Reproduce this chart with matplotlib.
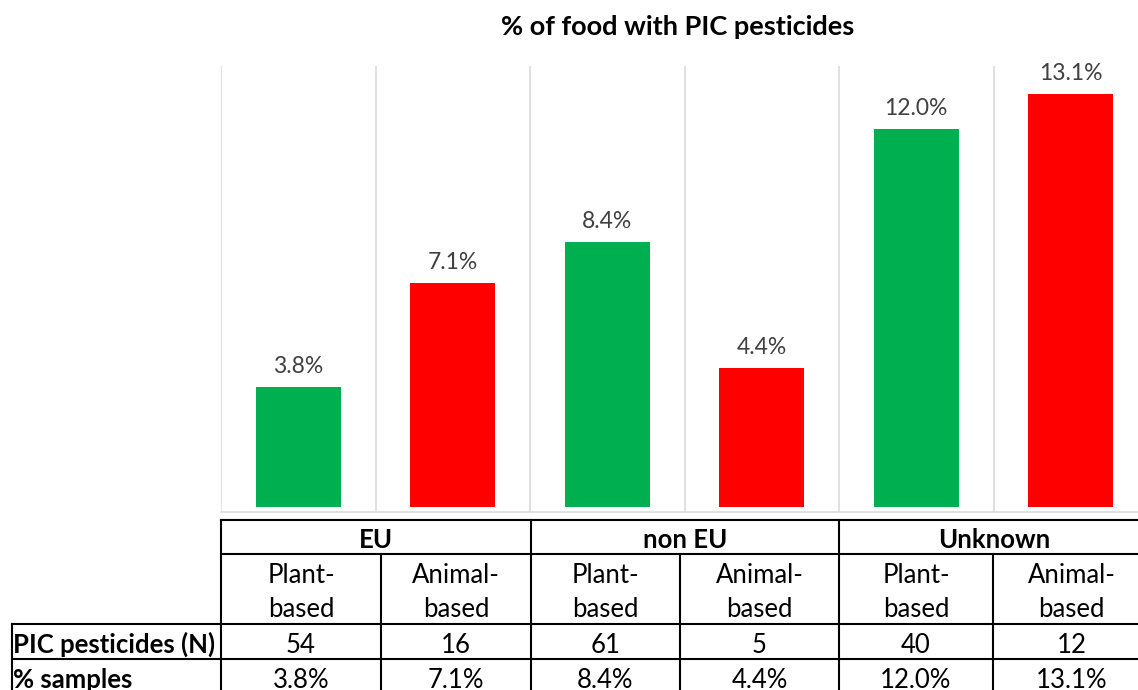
import matplotlib
matplotlib.use("Agg")
import matplotlib.pyplot as plt

plt.rcParams['font.family'] = ['Lato', 'DejaVu Sans']

# ---- data ----
regions = ["EU", "non EU", "Unknown"]
food_types = ["Plant-\nbased", "Animal-\nbased"]
pic_counts = [54, 16, 61, 5, 40, 12]
pct_samples = [3.8, 7.1, 8.4, 4.4, 12.0, 13.1]
bar_colors = ["#00B050", "#FF0000", "#00B050", "#FF0000", "#00B050", "#FF0000"]
row_labels = ["PIC pesticides (N)", "% samples"]
title = "% of food with PIC pesticides"

W, H = 1138, 690
fig = plt.figure(figsize=(W / 100, H / 100), dpi=100)

# ---- chart axes (pixel layout) ----
ax_l, ax_r, ax_t, ax_b = 221, 1148, 66, 512
ax = fig.add_axes([ax_l / W, (H - ax_b) / H, (ax_r - ax_l) / W, (ax_b - ax_t) / H])
x = list(range(len(pct_samples)))
ax.bar(x, pct_samples, width=0.55, color=bar_colors, zorder=3)
ax.set_xlim(-0.5, len(x) - 0.5)
ax.set_ylim(-0.16, 14)
for xi, v in zip(x, pct_samples):
    ax.annotate(f"{v:.1f}%", (xi, v), xytext=(0, 14), textcoords="offset pixels",
                ha="center", va="baseline", fontsize=16.5, color="#404040")

bounds = [i - 0.5 for i in range(len(x) + 1)]
for b in bounds:
    ax.axvline(b, color="#D9D9D9", lw=1.1, zorder=1)
for s in ["top", "right", "left"]:
    ax.spines[s].set_visible(False)
ax.spines["bottom"].set_color("#D9D9D9")
ax.spines["bottom"].set_linewidth(1.1)
ax.set_yticks([])
ax.set_xticks([])

# ---- overlay in pixel coords for title + table ----
tb = fig.add_axes([0, 0, 1, 1])
tb.set_xlim(0, W)
tb.set_ylim(H, 0)
tb.axis("off")

tb.text(677.5, 35, title, ha="center", va="baseline",
        fontsize=19.5, fontweight="bold", color="black")

col_edges = [221, 381, 531, 680, 839, 993, 1150]
grp_edges = [col_edges[0], col_edges[2], col_edges[4], col_edges[6]]
row_y = [520, 554, 624, 659, 694]
lbl_left = 12
kw = dict(color="black", lw=1.5, solid_capstyle="projecting")

tb.plot([col_edges[0], col_edges[-1]], [row_y[0]] * 2, **kw)
tb.plot([col_edges[0], col_edges[-1]], [row_y[1]] * 2, **kw)
for yy in row_y[2:5]:
    tb.plot([lbl_left, col_edges[-1]], [yy] * 2, **kw)
tb.plot([lbl_left, lbl_left], [row_y[2], row_y[-1]], **kw)
for ge in grp_edges:
    tb.plot([ge, ge], [row_y[0], row_y[-1]], **kw)
for ce in col_edges[1::2]:
    tb.plot([ce, ce], [row_y[1], row_y[-1]], **kw)

fs = 18.5
base_hdr, base_sub1, base_sub2, base_n, base_pct = 548, 583, 617, 653, 688
for i, r in enumerate(regions):
    cx = (grp_edges[i] + grp_edges[i + 1]) / 2
    tb.text(cx, base_hdr, r, ha="center", va="baseline",
            fontsize=fs, fontweight="bold")
centers = [(col_edges[i] + col_edges[i + 1]) / 2 for i in range(6)]
for i, c in enumerate(centers):
    l1, l2 = food_types[i % 2].split("\n")
    tb.text(c, base_sub1, l1, ha="center", va="baseline", fontsize=fs)
    tb.text(c, base_sub2, l2, ha="center", va="baseline", fontsize=fs)
    tb.text(c, base_n, f"{pic_counts[i]}", ha="center", va="baseline", fontsize=fs)
    tb.text(c, base_pct, f"{pct_samples[i]:.1f}%", ha="center", va="baseline",
            fontsize=fs)
tb.text(lbl_left + 1, base_n, row_labels[0], ha="left", va="baseline",
        fontsize=fs, fontweight="bold")
tb.text(lbl_left + 1, base_pct, row_labels[1], ha="left", va="baseline",
        fontsize=fs, fontweight="bold")

fig.savefig("out.png", dpi=100)
